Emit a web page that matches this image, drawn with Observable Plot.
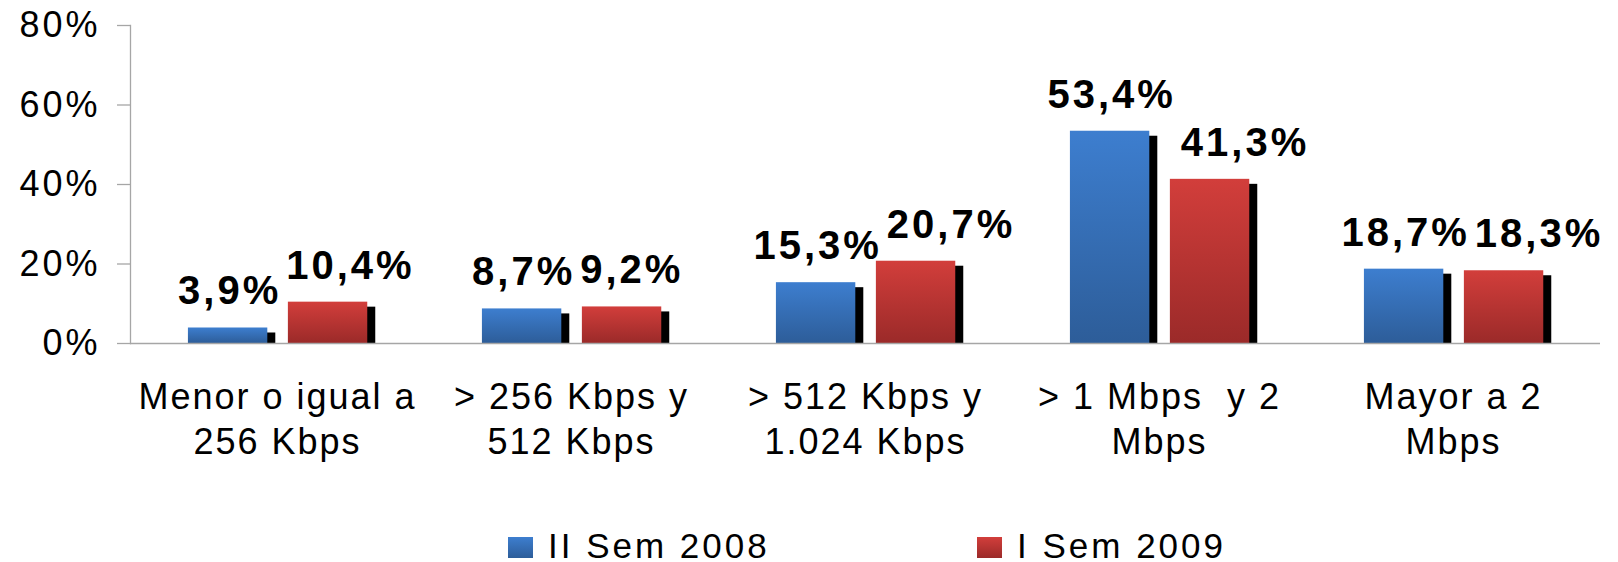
<!DOCTYPE html>
<html>
<head>
<meta charset="utf-8">
<script src="https://cdn.jsdelivr.net/npm/d3@7"></script>
<script src="https://cdn.jsdelivr.net/npm/@observablehq/plot@0.6"></script>
<style>
  html, body { margin: 0; padding: 0; background: #fff; overflow: hidden; }
  #wrap { width: 1618px; height: 562px; position: relative; font-family: 'Liberation Sans', Arial, sans-serif; }
  g[aria-label="y-axis tick label"] text { letter-spacing: 3px; }
  g[aria-label="x-axis tick label"] text { letter-spacing: 2px; }
  g.vlabel text { letter-spacing: 3px; }
  #legend { position: absolute; left: 0; top: 500px; width: 1618px; height: 62px; }
  .sw { position: absolute; width: 25px; height: 21px; top: 37px; }
  .lt { position: absolute; top: 28px; font-size: 35px; line-height: 35px; letter-spacing: 3px; color: #000; white-space: pre; }
</style>
</head>
<body>
<div id="wrap">
  <div id="chart"></div>
  <div id="legend"></div>
</div>
<script>
// ---- data ----
const categories = [
  "Menor o igual a 256 Kbps",
  "> 256 Kbps y 512 Kbps",
  "> 512 Kbps y 1.024 Kbps",
  "> 1 Mbps  y 2 Mbps",
  "Mayor a 2 Mbps"
];
const tickLabels = [
  "Menor o igual a\n256 Kbps",
  "> 256 Kbps y\n512 Kbps",
  "> 512 Kbps y\n1.024 Kbps",
  "> 1 Mbps  y 2\nMbps",
  "Mayor a 2\nMbps"
];
const series = ["II Sem 2008", "I Sem 2009"];
const sem2008 = [3.9, 8.7, 15.3, 53.4, 18.7];
const sem2009 = [10.4, 9.2, 20.7, 41.3, 18.3];
const yTicks = [0, 20, 40, 60, 80];

// ---- layout ----
const W = 1618, H = 500, mL = 130, mR = 18, mT = 25, mB = 157;
const bw = (W - mL - mR) / categories.length;
const barW = bw * 0.27;
const blueL = bw * 0.197, redL = bw * 0.537;
const ins = (left) => ({insetLeft: left, insetRight: bw - left - barW});
const blueDx = blueL + barW / 2 - bw / 2;
const redDx = redL + barW / 2 - bw / 2;
const LS = 3; // letter spacing of value labels
const FS = 40;

const fmt = v => v.toFixed(1).replace(".", ",") + "%";
const blueRows = categories.map((c, i) => ({category: c, series: series[0], value: sem2008[i]}));
const redRows = categories.map((c, i) => ({category: c, series: series[1], value: sem2009[i]}));

// label collision shift for second series
const ctx = document.createElement("canvas").getContext("2d");
ctx.font = `bold ${FS}px 'Liberation Sans'`;
const tw = s => ctx.measureText(s).width + (s.length - 1) * LS;
const gap = 8;
const shifts = categories.map((c, i) => {
  const blueRight = blueDx + tw(fmt(sem2008[i])) / 2;
  const redLeft = redDx - tw(fmt(sem2009[i])) / 2;
  return Math.max(0, blueRight + gap - redLeft);
});

const NS = "http://www.w3.org/2000/svg";
function defsMark() {
  const defs = document.createElementNS(NS, "defs");
  const mk = (id, top, bottom) => {
    const g = document.createElementNS(NS, "linearGradient");
    g.setAttribute("id", id);
    g.setAttribute("x1", "0"); g.setAttribute("y1", "0");
    g.setAttribute("x2", "0"); g.setAttribute("y2", "1");
    [[0, top], [1, bottom]].forEach(([o, c]) => {
      const s = document.createElementNS(NS, "stop");
      s.setAttribute("offset", o);
      s.setAttribute("stop-color", c);
      g.appendChild(s);
    });
    defs.appendChild(g);
  };
  mk("gBlue", "#3d7ecf", "#2d5d99");
  mk("gRed", "#d23e3b", "#9b2a29");
  return defs;
}

const axisGray = "#a6a6a6";
const labelOpts = {x: "category", y: "value", text: d => fmt(d.value), dy: -23.5,
  lineAnchor: "bottom", fontSize: FS, fontWeight: "bold", fill: "black", className: "vlabel"};

const chart = Plot.plot({
  width: W, height: H,
  marginLeft: mL, marginRight: mR, marginTop: mT, marginBottom: mB,
  style: {fontFamily: "'Liberation Sans', Arial, sans-serif", background: "white", color: "black"},
  x: {domain: categories, padding: 0},
  y: {domain: [0, 80]},
  marks: [
    defsMark,
    Plot.barY(blueRows, {x: "category", y: "value", fill: "black", ...ins(blueL), dx: 8, dy: 5, clip: true}),
    Plot.barY(redRows, {x: "category", y: "value", fill: "black", ...ins(redL), dx: 8, dy: 5, clip: true}),
    Plot.barY(blueRows, {x: "category", y: "value", fill: "url(#gBlue)", ...ins(blueL)}),
    Plot.barY(redRows, {x: "category", y: "value", fill: "url(#gRed)", ...ins(redL)}),
    Plot.frame({anchor: "left", stroke: axisGray, strokeWidth: 1.3}),
    Plot.ruleY([0], {stroke: axisGray, strokeWidth: 1.3}),
    Plot.axisY({ticks: yTicks, tickFormat: d => d + "%", tickSize: 13, tickPadding: 17, fontSize: 36,
      stroke: axisGray, strokeWidth: 1.3, fill: "black", label: null}),
    Plot.axisX({tickSize: 0, tickPadding: 34, fontSize: 36, lineHeight: 1.25, fill: "black",
      tickFormat: d => tickLabels[categories.indexOf(d)], label: null}),
    Plot.text(blueRows, {...labelOpts, dx: blueDx + LS / 2}),
    ...categories.map((c, i) => Plot.text(redRows.filter(d => d.category === c),
      {...labelOpts, dx: redDx + shifts[i] + LS / 2}))
  ]
});
document.getElementById("chart").appendChild(chart);

// legend
const legend = document.getElementById("legend");
const items = [
  {label: series[0], grad: "linear-gradient(#3d7ecf, #2d5d99)", sx: 508, tx: 548},
  {label: series[1], grad: "linear-gradient(#d23e3b, #9b2a29)", sx: 977, tx: 1017}
];
items.forEach(it => {
  const s = document.createElement("div");
  s.className = "sw"; s.style.left = it.sx + "px"; s.style.background = it.grad;
  const t = document.createElement("div");
  t.className = "lt"; t.style.left = it.tx + "px"; t.textContent = it.label;
  legend.appendChild(s); legend.appendChild(t);
});
</script>
</body>
</html>
